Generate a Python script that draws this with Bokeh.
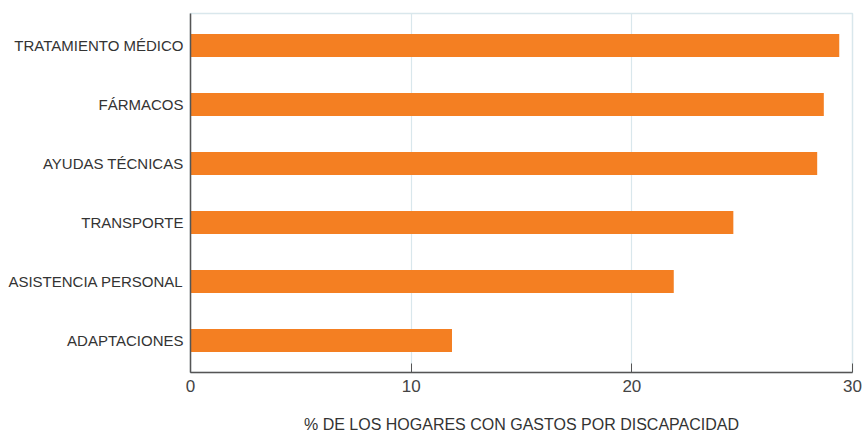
from bokeh.plotting import figure
from bokeh.models import Range1d, FixedTicker
from bokeh.embed import file_html
from bokeh.resources import INLINE

categories = ["TRATAMIENTO MÉDICO", "FÁRMACOS", "AYUDAS TÉCNICAS",
              "TRANSPORTE", "ASISTENCIA PERSONAL", "ADAPTACIONES"]
values = [29.4, 28.7, 28.4, 24.6, 21.9, 11.85]
x_ticks = [0, 10, 20, 30]
x_label = "% DE LOS HOGARES CON GASTOS POR DISCAPACIDAD"

factors = list(reversed(categories))

p = figure(width=862, height=439, y_range=factors, x_range=Range1d(0, 30),
           output_backend="svg", toolbar_location=None,
           min_border_left=190, min_border_right=10, min_border_top=13,
           min_border_bottom=67)
p.y_range.range_padding = 0.014

p.hbar(y=categories, right=values, left=0, height=0.39,
       fill_color="#F47F22", line_color=None)

p.outline_line_color = "#d9e7ec"
p.outline_line_width = 1.5
p.background_fill_color = "white"
p.border_fill_color = "white"

p.ygrid.grid_line_color = None
p.xgrid.grid_line_color = "#d9e7ec"
p.xgrid.grid_line_width = 1.2
p.xaxis.ticker = FixedTicker(ticks=x_ticks)

p.xaxis.axis_line_color = "#555555"
p.xaxis.axis_line_width = 1.5
p.xaxis.major_tick_line_color = "#555555"
p.xaxis.major_tick_in = 9
p.xaxis.major_tick_out = 0
p.xaxis.minor_tick_line_color = None
p.xaxis.major_label_text_font = "Liberation Sans"
p.xaxis.major_label_text_font_size = "17px"
p.xaxis.major_label_text_color = "#444444"
p.xaxis.major_label_standoff = 7
p.xaxis.axis_label = x_label
p.xaxis.axis_label_text_font = "Liberation Sans"
p.xaxis.axis_label_text_font_style = "normal"
p.xaxis.axis_label_text_font_size = "16px"
p.xaxis.axis_label_text_color = "#333333"
p.xaxis.axis_label_standoff = 21

p.yaxis.axis_line_color = "#555555"
p.yaxis.axis_line_width = 1.5
p.yaxis.major_tick_line_color = None
p.yaxis.minor_tick_line_color = None
p.yaxis.major_tick_out = 0
p.yaxis.major_tick_in = 0
p.yaxis.major_label_text_font = "Liberation Sans"
p.yaxis.major_label_text_font_size = "15px"
p.yaxis.major_label_text_color = "#333333"
p.yaxis.major_label_standoff = 7

open("out.html", "w").write(file_html(p, INLINE))
